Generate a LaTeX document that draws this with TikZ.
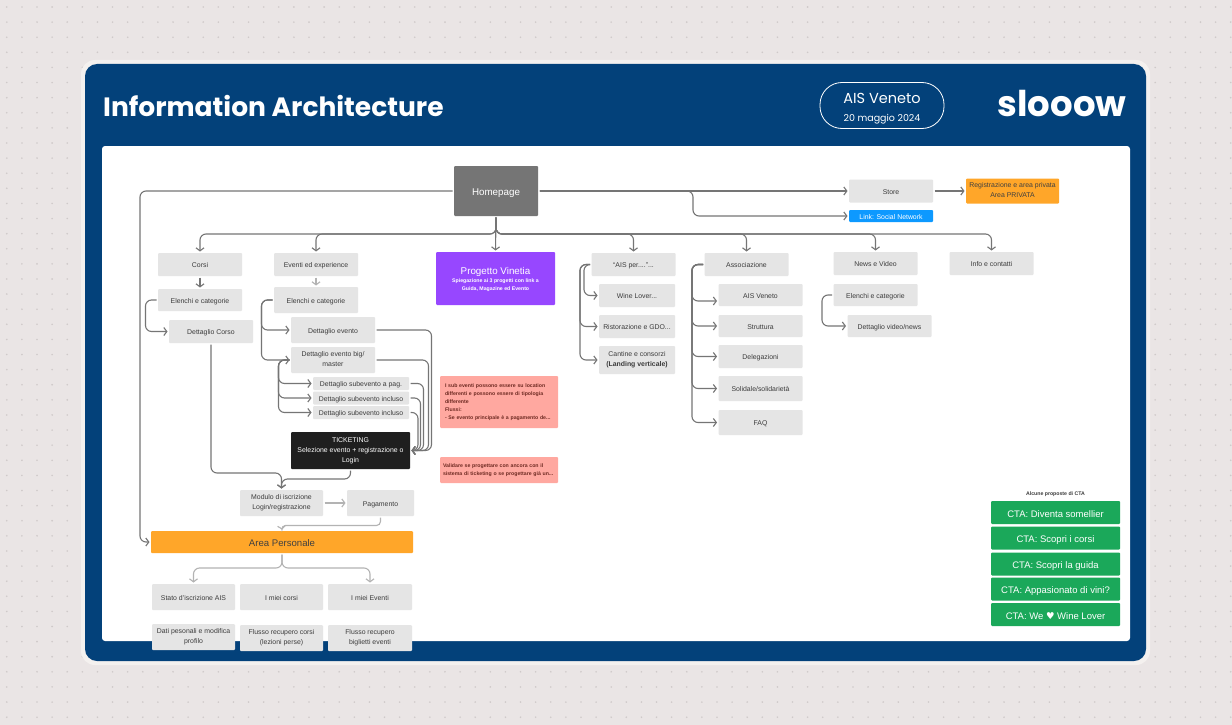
\documentclass[tikz,border=0pt]{standalone}
\usepackage{xcolor}
\usepackage{fontspec}
\usepackage{tikz}
\usetikzlibrary{arrows.meta}
\setmainfont{Liberation Sans}
\newfontfamily\headfont{Poppins}
\newfontfamily\symfont{DejaVu Sans}
\newcommand{\lowtop}{\rule{0pt}{1.2em}}
\newcommand{\lowbottom}{\rule[-0.2em]{0pt}{0pt}}
\definecolor{pagebg}{HTML}{EAE5E5}
\definecolor{pagedot}{HTML}{CFC9C9}
\definecolor{cardrim}{HTML}{F4F1EF}
\definecolor{cardblue}{HTML}{03417A}
\definecolor{boxgray}{HTML}{E5E5E5}
\definecolor{boxtext}{HTML}{3C3C3C}
\definecolor{linegray}{HTML}{757575}
\definecolor{lightgray}{HTML}{B3B3B3}
\definecolor{areaorange}{HTML}{FFA629}
\definecolor{notepink}{HTML}{FFA8A0}
\definecolor{notetext}{HTML}{6E2A22}
\definecolor{vinetia}{HTML}{9747FF}
\definecolor{linkblue}{HTML}{0D99FF}
\definecolor{ctagreen}{HTML}{1BA85A}
\begin{document}
\begin{tikzpicture}[x=1pt, y=-1pt, node distance=30pt]
    % Define styles
    \tikzstyle{lowtext} = [execute at begin node=\lowtop, execute at end node=\lowbottom]
    \tikzstyle{box} = [rectangle, lowtext, minimum width=84pt, minimum height=23pt, inner sep=0pt, outer sep=1.5pt, rounded corners=1pt, align=center, fill=boxgray, text=boxtext, font=\fontsize{6.9}{10}\selectfont]
    \tikzstyle{subbox} = [box, minimum width=96pt, minimum height=13pt]
    \tikzstyle{orangebox} = [box, fill=areaorange, text=black!75]
    \tikzstyle{notebox} = [rectangle, minimum width=118pt, inner sep=0pt, rounded corners=1pt, fill=notepink, text=notetext, font=\fontsize{5.2}{8}\selectfont\bfseries]
    \tikzstyle{ctabox} = [rectangle, lowtext, minimum width=129pt, minimum height=23pt, inner sep=0pt, rounded corners=1pt, fill=ctagreen, text=white, font=\fontsize{9.5}{12}\selectfont]
    \tikzstyle{arrow} = [draw=linegray, line width=1.1pt, ->, >={Straight Barb[length=3pt,width=8pt]}, rounded corners=6pt]
    \tikzstyle{lightarrow} = [arrow, draw=lightgray]

    % Background
    \useasboundingbox (0,0) rectangle (1232,725);
    \fill [pagebg] (0,0) rectangle (1232,725);
    \foreach \i in {0,...,81}
        \foreach \j in {0,...,47}
            \fill [pagedot] (6.8+15.11*\i,7+15.11*\j) circle (0.9pt);
    \fill [cardrim, rounded corners=14pt] (81,60) rectangle (1150,665);
    \fill [cardblue, rounded corners=12pt] (85,64) rectangle (1146,661);
    \fill [white, rounded corners=3pt] (102,146) rectangle (1130,641);

    % Header
    \node [anchor=west, inner sep=0pt, text=white, font=\headfont\bfseries\fontsize{26.5}{34}\selectfont] (title) at (103,106) {Information Architecture};
    \node [draw=white, line width=0.8pt, minimum width=124pt, minimum height=46pt, rounded corners=22pt, text=white, align=center, inner sep=0pt, font=\headfont\fontsize{9.5}{18}\selectfont] (event) at (882,105.5) {\rule{0pt}{17.5pt}{\fontsize{14.5}{18}\selectfont AIS Veneto}\\20 maggio 2024};
    \node [inner sep=0pt, text=white, font=\headfont\bfseries\fontsize{35.5}{40}\selectfont] (logo) at (1062,104) {slooow};

    % Nodes
    \node [box, minimum width=84pt, minimum height=50pt, fill=linegray, text=white, font=\fontsize{9.8}{12}\selectfont] (home) at (496,191) {Homepage};
    \coordinate (hbus) at (496,234);
    \coordinate (hlink) at (693,191);

    \node [box] (corsi) at (200,264.5) {Corsi};
    \node [box, minimum height=22pt, below of=corsi, node distance=35.5pt] (elcorsi) {Elenchi e categorie};
    \node [box, below of=elcorsi, node distance=31.5pt, xshift=11pt] (detcorso) {Dettaglio Corso};

    \node [box] (eventi) at (316,264.5) {Eventi ed experience};
    \node [box, minimum height=26pt, below of=eventi, node distance=35.5pt] (elev) {Elenchi e categorie};
    \node [box, minimum height=26pt, below of=elev, xshift=17pt] (detev) {Dettaglio evento};
    \node [box, minimum height=26pt, below of=detev] (big) {Dettaglio evento big/\\master};
    \node [subbox] (subpag) at (361,383.5) {Dettaglio subevento a pag.};
    \node [subbox, below of=subpag, node distance=14.5pt] (subone) {Dettaglio subevento incluso};
    \node [subbox, below of=subone, node distance=14.5pt] (subtwo) {Dettaglio subevento incluso};
    \node [box, minimum width=119pt, minimum height=37pt, fill=black!88, text=white] (ticket) at (350.5,450.5) {TICKETING\\Selezione evento + registrazione o\\Login};

    \node [box, minimum width=83pt, minimum height=26pt] (modulo) at (281.5,503) {Modulo di iscrizione\\Login/registrazione};
    \node [box, minimum width=67pt, minimum height=26pt, right of=modulo, node distance=99pt] (paga) {Pagamento};
    \node [orangebox, minimum width=262pt, minimum height=22pt, font=\fontsize{9.6}{12}\selectfont] (area) at (282,542) {Area Personale};
    \node [box, minimum width=83pt, minimum height=26pt] (stato) at (193.5,597) {Stato d'iscrizione AIS};
    \node [box, minimum width=83pt, minimum height=26pt, right of=stato, node distance=88pt] (mieicorsi) {I miei corsi};
    \node [box, minimum width=84pt, minimum height=26pt, right of=mieicorsi, node distance=88.5pt] (mieieventi) {I miei Eventi};
    \node [box, minimum width=83pt, minimum height=26pt] (dati) at (193.5,637) {Dati pesonali e modifica\\profilo};
    \node [box, minimum width=83pt, minimum height=26pt] (recorsi) at (281.5,638) {Flusso recupero corsi\\(lezioni perse)};
    \node [box, minimum width=84pt, minimum height=26pt] (rebiglietti) at (370,638) {Flusso recupero\\biglietti eventi};

    \node [box, minimum width=119pt, minimum height=53pt, fill=vinetia, text=white, font=\fontsize{5.2}{8}\selectfont\bfseries] (vinetia) at (495.5,278.5) {\rule{0pt}{10pt}{\fontsize{9.8}{12}\selectfont\mdseries Progetto Vinetia}\\Spiegazione ai 3 progetti con link a\\Guida, Magazine ed Evento};
    \node [notebox, minimum height=52pt, text width=108pt, align=left] (noteone) at (499,402) {I sub eventi possono essere su location\\differenti e possono essere di tipologia\\differente\\Flussi:\\- Se evento principale è a pagamento de...};
    \node [notebox, minimum height=26pt, text width=112pt, align=left] (notetwo) at (499,470) {Validare se progettare con ancora con il\\sistema di ticketing o se progettare già un...};

    \node [box, minimum width=84pt] (aisper) at (633.5,264.5) {``AIS per....''...};
    \node [box, minimum width=76pt, below of=aisper, node distance=31pt, xshift=3.5pt] (wine) {Wine Lover...};
    \node [box, minimum width=76pt, below of=wine, node distance=31pt] (risto) {Ristorazione e GDO...};
    \node [box, minimum width=76pt, minimum height=28pt, below of=risto, node distance=33.5pt] (cantine) {Cantine e consorzi\\\textbf{(Landing verticale)}};

    \node [box] (assoc) at (746.5,264.5) {Associazione};
    \node [box, minimum height=22pt] (aisven) at (760.5,295) {AIS Veneto};
    \node [box, minimum height=22pt, below of=aisven, node distance=31pt] (strut) {Struttura};
    \node [box, below of=strut, node distance=30.5pt] (deleg) {Delegazioni};
    \node [box, minimum height=25pt, below of=deleg, node distance=32pt] (solid) {Solidale/solidarietà};
    \node [box, minimum height=25pt, below of=solid, node distance=34pt] (faq) {FAQ};

    \node [box] (news) at (875.5,263.5) {News e Video};
    \node [box, minimum height=22pt, below of=news, node distance=31.5pt] (elnews) {Elenchi e categorie};
    \node [box, minimum height=22pt, below of=elnews, node distance=31pt, xshift=14pt] (detnews) {Dettaglio video/news};
    \node [box] (info) at (991.5,263.5) {Info e contatti};

    \node [box] (store) at (891,191) {Store};
    \node [orangebox, minimum width=93pt, minimum height=25pt] (registra) at (1012.5,191) {Registrazione e area privata\\Area PRIVATA};
    \node [box, minimum height=12pt, fill=linkblue, text=white] (link) at (891,216) {Link: Social Network};

    \node [inner sep=0pt, text=boxtext, font=\fontsize{5.2}{7}\selectfont\bfseries] (ctatitle) at (1055.5,494.5) {Alcune proposte di CTA};
    \node [ctabox] (ctaone) at (1055.5,512.5) {CTA: Diventa somellier};
    \node [ctabox, below of=ctaone, node distance=25.5pt] (ctatwo) {CTA: Scopri i corsi};
    \node [ctabox, below of=ctatwo, node distance=26pt] (ctathree) {CTA: Scopri la guida};
    \node [ctabox, below of=ctathree, node distance=25pt] (ctafour) {CTA: Appasionato di vini?};
    \node [ctabox, below of=ctafour, node distance=25.5pt] (ctafive) {CTA: We {\symfont ♥} Wine Lover};

    % Arrows from the homepage
    \draw [arrow] (home.west) -| (140,542) -- (area.west);
    \draw [arrow] (home.east) -- (store.west);
    \draw [arrow] (home.east) -- (hlink) |- (link.west);
    \draw [arrow] (store.east) -- (registra.west);
    \draw [arrow] (home.south) -- (vinetia.north);
    \foreach \target in {corsi,eventi,aisper,assoc,news,info}
        \draw [arrow] (home.south) -- (hbus) -| (\target.north);

    % Corsi
    \draw [arrow] (corsi.south) -- (elcorsi.north);
    \draw [arrow] (elcorsi.west) -- ++(-11,0) |- (detcorso.west);
    \coordinate (joinleft) at (281.5,473);
    \coordinate (joinright) at (281.5,479);
    \draw [arrow] (detcorso.south) |- (joinleft) -- (modulo.north);

    % Eventi
    \draw [lightarrow] (eventi.south) -- (elev.north);
    \draw [arrow] (elev.west) -- ++(-11,0) |- (detev.west);
    \draw [arrow] (elev.west) -- ++(-11,0) |- (big.west);
    \foreach \target in {subpag,subone,subtwo}
        \draw [arrow] (big.west) -- ++(-11,0) |- (\target.west);
    \draw [arrow] (detev.east) -- ++(55,0) |- (ticket.east);
    \draw [arrow] (big.east) -- ++(52,0) |- (ticket.east);
    \draw [arrow] (subpag.east) -- ++(13,0) |- (ticket.east);
    \draw [arrow] (subone.east) -- ++(10,0) |- (ticket.east);
    \draw [arrow] (subtwo.east) -- ++(7.5,0) |- (ticket.east);
    \draw [arrow] (ticket.south) |- (joinright) -- (modulo.north);

    % Area personale
    \draw [lightarrow] (modulo.east) -- (paga.west);
    \draw [lightarrow, rounded corners=4pt] (paga.south) |- ++(-99,8) -- (area.north);
    \coordinate (areabus) at (282,568);
    \draw [lightarrow] (area.south) -- (areabus) -| (stato.north);
    \draw [lightarrow] (area.south) -- (areabus) -| (mieieventi.north);

    % AIS per
    \draw [arrow] (aisper.west) -- ++(-6,0) |- (wine.west);
    \draw [arrow] (aisper.west) -- ++(-10,0) |- (risto.west);
    \draw [arrow] (aisper.west) -- ++(-10,0) |- (cantine.west);

    % Associazione
    \draw [arrow] (assoc.west) -- ++(-11,0) |- ([yshift=-6pt]aisven.west);
    \foreach \target in {strut,deleg,solid,faq}
        \draw [arrow] (assoc.west) -- ++(-11,0) |- (\target.west);

    % News
    \draw [arrow] (elnews.west) -- ++(-10,0) |- (detnews.west);
\end{tikzpicture}
\end{document}
